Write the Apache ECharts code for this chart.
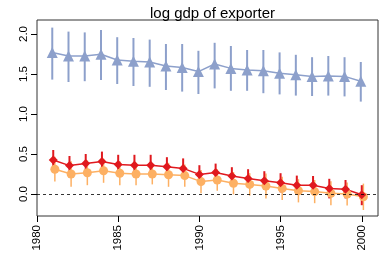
<!DOCTYPE html>
<html>
<head>
<meta charset="utf-8">
<script src="https://cdn.jsdelivr.net/npm/echarts@6/dist/echarts.min.js"></script>
<style>html,body{margin:0;padding:0;background:#fff}#c{width:390px;height:260px}</style>
</head>
<body>
<div id="c"></div>
<script>
const years = [1981,1982,1983,1984,1985,1986,1987,1988,1989,1990,1991,1992,1993,1994,1995,1996,1997,1998,1999,2000];
const xTicks = [1980,1985,1990,1995,2000];
const yTicks = [0,0.5,1,1.5,2];

const blueMean = [1.77,1.725,1.725,1.746,1.675,1.66,1.65,1.60,1.58,1.53,1.625,1.57,1.55,1.54,1.51,1.49,1.47,1.475,1.47,1.41];
const blueHigh = [2.08,2.03,2.02,2.05,1.96,1.95,1.93,1.875,1.875,1.79,1.89,1.85,1.80,1.80,1.77,1.74,1.71,1.725,1.71,1.65];
const blueLow  = [1.43,1.40,1.41,1.425,1.375,1.35,1.34,1.30,1.28,1.25,1.32,1.29,1.29,1.26,1.245,1.23,1.225,1.23,1.22,1.155];

const redMean = [0.425,0.355,0.38,0.405,0.37,0.36,0.36,0.34,0.32,0.245,0.27,0.225,0.195,0.165,0.14,0.11,0.11,0.07,0.06,-0.01];
const redHigh = [0.55,0.475,0.50,0.53,0.49,0.49,0.49,0.46,0.445,0.36,0.38,0.335,0.31,0.285,0.26,0.23,0.225,0.19,0.175,0.11];
const redLow  = [0.30,0.24,0.26,0.28,0.245,0.24,0.24,0.22,0.195,0.13,0.155,0.11,0.08,0.05,0.02,0.0,-0.01,-0.055,-0.055,-0.14];

const orangeMean = [0.31,0.25,0.265,0.29,0.26,0.25,0.25,0.24,0.23,0.155,0.175,0.135,0.12,0.10,0.07,0.04,0.03,0.01,0.0,-0.035];
const orangeHigh = [0.465,0.41,0.42,0.44,0.41,0.39,0.38,0.39,0.37,0.30,0.31,0.275,0.26,0.255,0.215,0.185,0.175,0.16,0.145,0.13];
const orangeLow  = [0.155,0.09,0.11,0.14,0.11,0.11,0.12,0.09,0.09,0.01,0.04,-0.005,-0.02,-0.055,-0.075,-0.105,-0.115,-0.14,-0.145,-0.20];

const BLUE = '#8DA0CB', RED = '#E0191E', ORANGE = '#FDB063';
const DODGE = {blue: -0.06, red: 0, orange: 0.1};

function pts(mean, d) { return years.map((y, i) => [y + d, mean[i]]); }
function bars(lo, hi, d) { return years.map((y, i) => [y + d, lo[i], hi[i]]); }

function errSeries(lo, hi, d, color, w) {
  return {
    type: 'custom',
    data: bars(lo, hi, d),
    encode: {x: 0, y: [1, 2]},
    clip: true,
    silent: true,
    renderItem: function (params, api) {
      const a = api.coord([api.value(0), api.value(1)]);
      const b = api.coord([api.value(0), api.value(2)]);
      return {type: 'line', shape: {x1: a[0], y1: a[1], x2: b[0], y2: b[1]},
              style: {stroke: color, lineWidth: w}};
    }
  };
}
function lineSeries(mean, d, color, sym, size, w) {
  return {
    type: 'line', data: pts(mean, d), symbol: sym, symbolSize: size,
    showAllSymbol: true, silent: true,
    lineStyle: {color: color, width: w}, itemStyle: {color: color, opacity: 1},
    emphasis: {disabled: true}
  };
}

const chart = echarts.init(document.getElementById('c'), null, {renderer: 'canvas'});
const orangeLine = lineSeries(orangeMean, DODGE.orange, ORANGE, 'circle', 9, 1.5);
orangeLine.markLine = {
  silent: true, symbol: 'none', label: {show: false},
  lineStyle: {color: '#000', type: [3, 3], width: 0.8},
  data: [{yAxis: 0}]
};
chart.setOption({
  animation: false,
  title: {
    text: 'log gdp of exporter', left: 207.5, top: 1, textAlign: 'center',
    textStyle: {fontFamily: 'Liberation Sans', fontWeight: 'normal', fontSize: 15, color: '#000'}
  },
  grid: {left: 37, right: 12, top: 20, bottom: 44, show: true, borderColor: '#333', borderWidth: 1, backgroundColor: 'transparent'},
  xAxis: {
    type: 'value', min: 1980, max: 2001, position: 'bottom',
    axisLine: {show: false, onZero: false}, splitLine: {show: false},
    axisTick: {show: true, inside: false, length: 6, lineStyle: {color: '#000'}, customValues: xTicks},
    axisLabel: {rotate: 90, margin: 9, customValues: xTicks, fontFamily: 'Liberation Sans', fontSize: 11.5, color: '#000',
      formatter: v => String(v)}
  },
  yAxis: {
    type: 'value', min: -0.275, max: 2.175, position: 'left',
    axisLine: {show: false, onZero: false}, splitLine: {show: false},
    axisTick: {show: true, inside: false, length: 6, lineStyle: {color: '#000'}, customValues: yTicks},
    axisLabel: {rotate: 90, margin: 7, customValues: yTicks, fontFamily: 'Liberation Sans', fontSize: 11.5, color: '#000',
      formatter: v => v.toFixed(1)}
  },
  series: [
    errSeries(blueLow, blueHigh, DODGE.blue, BLUE, 2),
    lineSeries(blueMean, DODGE.blue, BLUE, 'triangle', 11, 1.5),
    errSeries(orangeLow, orangeHigh, DODGE.orange, ORANGE, 1.5),
    orangeLine,
    errSeries(redLow, redHigh, DODGE.red, RED, 2),
    lineSeries(redMean, DODGE.red, RED, 'diamond', 9, 1.5)
  ]
});
</script>
</body>
</html>
